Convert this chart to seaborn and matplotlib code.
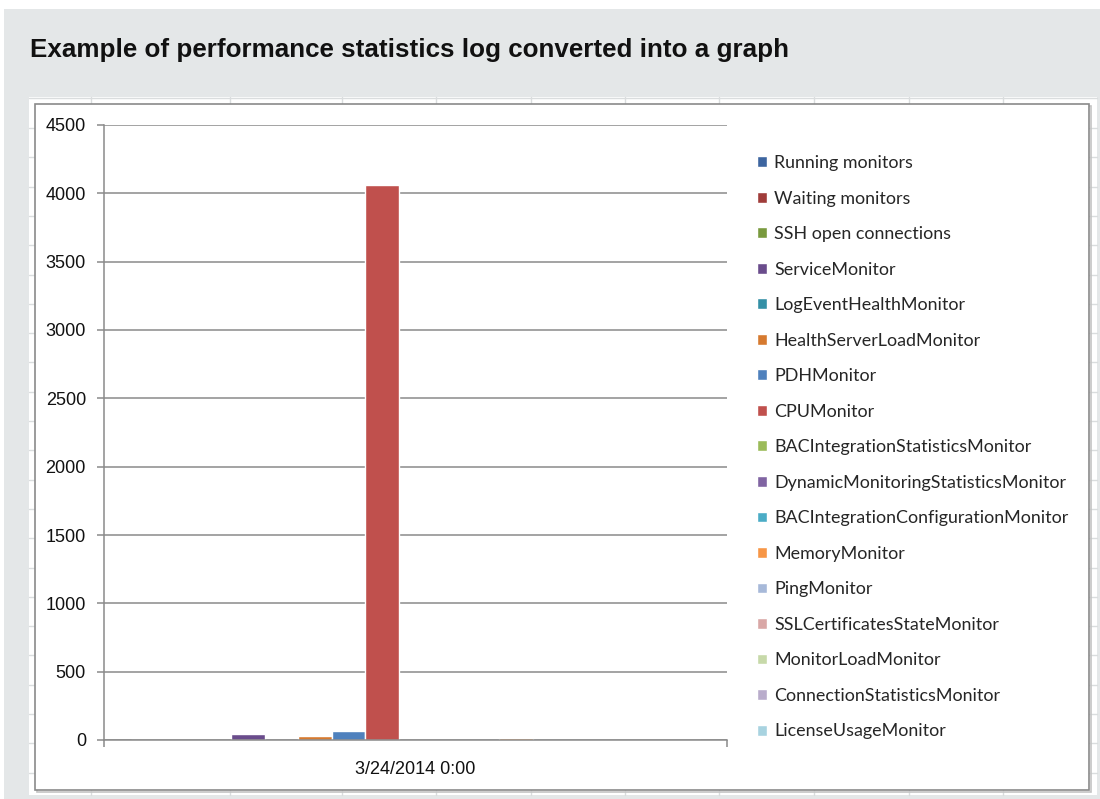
import matplotlib
matplotlib.use("Agg")
import matplotlib.pyplot as plt
from matplotlib.patches import Rectangle
from matplotlib.lines import Line2D
import seaborn as sns
import pandas as pd

# ---- data -------------------------------------------------------------
timestamps = ["3/24/2014 0:00"]
series_names = [
    "Running monitors", "Waiting monitors", "SSH open connections",
    "ServiceMonitor", "LogEventHealthMonitor", "HealthServerLoadMonitor",
    "PDHMonitor", "CPUMonitor", "BACIntegrationStatisticsMonitor",
    "DynamicMonitoringStatisticsMonitor", "BACIntegrationConfigurationMonitor",
    "MemoryMonitor", "PingMonitor", "SSLCertificatesStateMonitor",
    "MonitorLoadMonitor", "ConnectionStatisticsMonitor", "LicenseUsageMonitor",
]
series_values = [0, 0, 0, 44, 0, 27, 64, 4060, 0, 0, 0, 15, 0, 0, 0, 0, 0]
series_colors = [
    "#3D65A0", "#A03C3A", "#799A3E", "#6A4C8C", "#3490A6", "#D67A30",
    "#4F81BD", "#C0504D", "#9BBB59", "#8064A2", "#4BACC6", "#F79646",
    "#A7B9D9", "#D9A7A6", "#C7D9A9", "#B9ACCB", "#A8D3E0",
]
y_ticks = [0, 500, 1000, 1500, 2000, 2500, 3000, 3500, 4000, 4500]

df = pd.DataFrame({
    "time": timestamps * len(series_names),
    "series": series_names,
    "value": series_values,
})

# ---- figure -----------------------------------------------------------
W, H = 1100, 799
sns.set_theme(style="white")
plt.rcParams["font.family"] = ["Liberation Sans", "DejaVu Sans"]
fig = plt.figure(figsize=(W / 100, H / 100), dpi=100, facecolor="white")


def fx(px):
    return px / W


def fy(py):
    return 1 - py / H


def add_rect(x0, y0, x1, y1, **kw):
    r = Rectangle((fx(x0), fy(y1)), fx(x1) - fx(x0), fy(y0) - fy(y1),
                  transform=fig.transFigure, **kw)
    fig.patches.append(r)
    return r


def add_line(xs, ys, **kw):
    ln = Line2D([fx(x) for x in xs], [fy(y) for y in ys],
                transform=fig.transFigure, **kw)
    fig.lines.append(ln)


# page panel
add_rect(4, 9, 1100, 799, facecolor="#E4E7E8", edgecolor="none", zorder=-30)
# worksheet cells behind the chart
add_rect(29, 97, 1097, 795, facecolor="#FFFFFF", edgecolor="none", zorder=-29)
for cx in [91, 230, 342, 436, 531, 625, 719, 814, 909, 1003]:
    add_line([cx, cx], [97, 795], color="#DADDDE", lw=1.0, zorder=-28)
ry = 128.0
while ry < 795:
    add_line([29, 1097], [ry, ry], color="#DADDDE", lw=1.0, zorder=-28)
    ry += 29.3
add_line([29, 1097], [98, 98], color="#DADDDE", lw=1.0, zorder=-28)
# chart frame with a soft shadow
add_rect(36.5, 105.5, 1090.5, 791.5, facecolor="none", edgecolor="#C4C4C4",
         lw=1.2, zorder=-27)
add_rect(35, 104, 1089, 790, facecolor="white", edgecolor="#8A8A8A",
         lw=1.2, zorder=-26)

fig.text(fx(30), fy(50), "Example of performance statistics log converted into a graph",
         fontsize=18.7, fontweight="bold", color="#111111",
         ha="left", va="center", family=["Liberation Sans", "DejaVu Sans"])

# ---- plot area --------------------------------------------------------
ax = fig.add_axes([fx(104), fy(740), fx(727) - fx(104), fy(125) - fy(740)])
ax.set_facecolor("none")

sns.barplot(data=df, x="time", y="value", hue="series", hue_order=series_names,
            palette=series_colors, saturation=1, width=0.914, gap=0,
            errorbar=None, ax=ax)

grid_c = "#8A8A8A"
ax.set_ylim(0, 4500)
ax.set_xlim(-0.5, 0.5)
ax.set_yticks(y_ticks)
ax.yaxis.grid(True, color=grid_c, lw=1.1)
ax.set_axisbelow(True)
for side in ["top", "right"]:
    ax.spines[side].set_visible(False)
for side in ["left", "bottom"]:
    ax.spines[side].set_color(grid_c)
    ax.spines[side].set_linewidth(1.1)

ax.tick_params(axis="y", which="major", length=5, width=1.1, color=grid_c,
               direction="out", left=True, labelsize=13, labelcolor="#111111",
               pad=8)
ax.tick_params(axis="x", which="major", length=0, labelsize=13,
               labelcolor="#111111", pad=15)
ax.set_xticks([-0.5, 0.5], minor=True)
ax.tick_params(axis="x", which="minor", length=5, width=1.1, color=grid_c,
               direction="out", bottom=True)
ax.set_xlabel("")
ax.set_ylabel("")

# ---- legend -----------------------------------------------------------
handles, labels = ax.get_legend_handles_labels()
ax.legend(handles, labels, loc="upper left",
          bbox_to_anchor=(fx(757), fy(155)), bbox_transform=fig.transFigure,
          frameon=False, borderpad=0, borderaxespad=0,
          handlelength=0.55, handleheight=0.55,
          handletextpad=0.4, labelspacing=1.09,
          prop={"family": ["Lato", "DejaVu Sans"], "size": 12.9})

fig.savefig("out.png", dpi=100, facecolor=fig.get_facecolor())
